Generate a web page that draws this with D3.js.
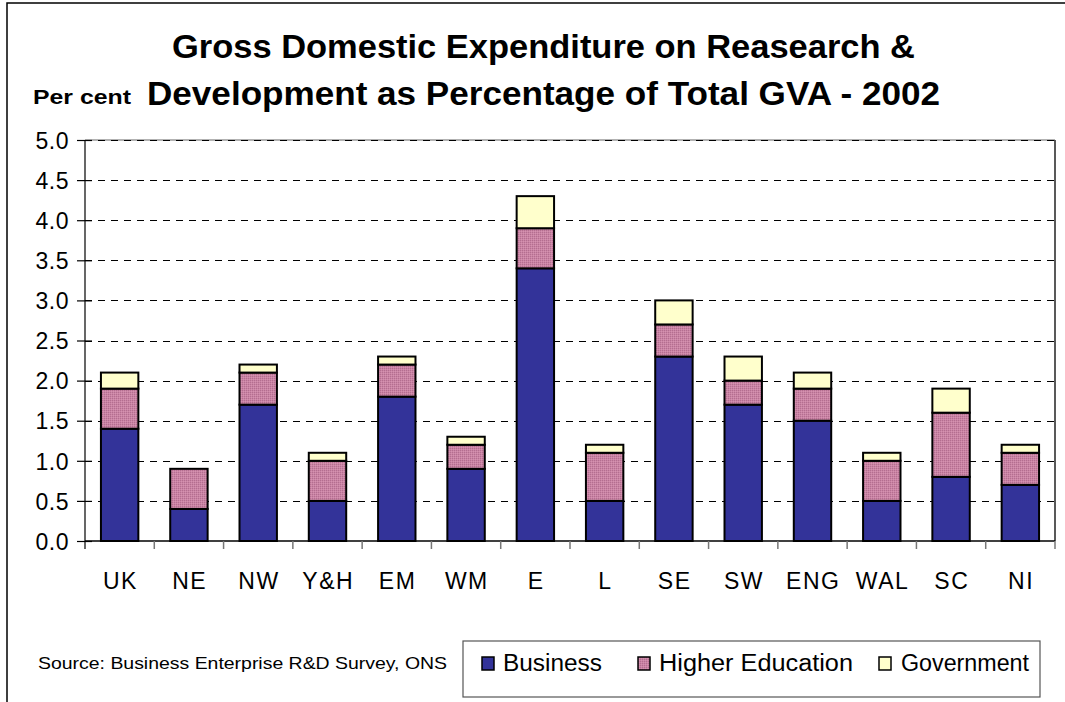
<!DOCTYPE html>
<html>
<head>
<meta charset="utf-8">
<script src="https://cdn.jsdelivr.net/npm/d3@7"></script>
<style>
  html, body { margin: 0; padding: 0; background: #fff; }
  svg { display: block; }
  text { font-family: "Liberation Sans", Arial, sans-serif; fill: #000; }
</style>
</head>
<body>
<svg id="chart" width="1065" height="702"></svg>
<script>
// Regions of the UK
const regions = ["UK", "NE", "NW", "Y&H", "EM", "WM", "E", "L", "SE", "SW", "ENG", "WAL", "SC", "NI"];
// R&D spend as % of GVA, by sector
const business        = [1.4, 0.4, 1.7, 0.5, 1.8, 0.9, 3.4, 0.5, 2.3, 1.7, 1.5, 0.5, 0.8, 0.7];
const higherEducation = [0.5, 0.5, 0.4, 0.5, 0.4, 0.3, 0.5, 0.6, 0.4, 0.3, 0.4, 0.5, 0.8, 0.4];
const government      = [0.2, 0.0, 0.1, 0.1, 0.1, 0.1, 0.4, 0.1, 0.3, 0.3, 0.2, 0.1, 0.3, 0.1];
const seriesNames = ["Business", "Higher Education", "Government"];
const yTicks = [0, 0.5, 1.0, 1.5, 2.0, 2.5, 3.0, 3.5, 4.0, 4.5, 5.0];

const svg = d3.select("#chart");
const defs = svg.append("defs");

// fine dotted texture for the higher-education fill
const pat = defs.append("pattern").attr("id", "hePat")
  .attr("width", 2).attr("height", 2).attr("patternUnits", "userSpaceOnUse");
pat.append("rect").attr("width", 2).attr("height", 2).attr("fill", "#c983a4");
pat.append("rect").attr("width", 1).attr("height", 1).attr("fill", "#b46e90");
pat.append("rect").attr("x", 1).attr("y", 1).attr("width", 1).attr("height", 1).attr("fill", "#d592b0");

const colors = ["#333399", "url(#hePat)", "#ffffcc"];

// outer chart frame
svg.append("rect").attr("x", 7).attr("y", 3).attr("width", 1080).attr("height", 720)
  .attr("fill", "none").attr("stroke", "#000").attr("stroke-width", 1.5);

const plot = { left: 85, right: 1055, top: 140, bottom: 541 };

const x = d3.scaleBand().domain(regions).range([plot.left, plot.right]).paddingInner(0.46).paddingOuter(0.23);
const xEdge = d3.scaleLinear().domain([0, regions.length]).range([plot.left, plot.right]);
const y = d3.scaleLinear().domain([0, 5]).range([plot.bottom, plot.top]);

// plot-area border (top light grey, right dark)
svg.append("line").attr("x1", plot.left).attr("x2", plot.right).attr("y1", plot.top).attr("y2", plot.top)
  .attr("stroke", "#999").attr("stroke-width", 1.5);
svg.append("line").attr("x1", plot.right).attr("x2", plot.right).attr("y1", plot.top).attr("y2", plot.bottom)
  .attr("stroke", "#222").attr("stroke-width", 1.5);

// dashed gridlines
svg.append("g").selectAll("line").data(yTicks.filter(d => d > 0)).join("line")
  .attr("x1", plot.left).attr("x2", plot.right)
  .attr("y1", d => Math.round(y(d)) + 0.5).attr("y2", d => Math.round(y(d)) + 0.5)
  .attr("stroke", "#000").attr("stroke-width", 1.2).attr("stroke-dasharray", "7,6");

// stacked bars
const rows = regions.map((r, i) => ({ region: r, Business: business[i], "Higher Education": higherEducation[i], Government: government[i] }));
const stacked = d3.stack().keys(seriesNames)(rows);
svg.append("g").selectAll("g").data(stacked).join("g")
  .attr("fill", (d, i) => colors[i])
  .selectAll("rect").data(d => d.filter(s => s[1] - s[0] > 0)).join("rect")
  .attr("x", d => x(d.data.region))
  .attr("width", x.bandwidth())
  .attr("y", d => y(d[1]))
  .attr("height", d => y(d[0]) - y(d[1]))
  .attr("stroke", "#000").attr("stroke-width", 2);

// y axis
const yAxis = d3.axisLeft(y).tickValues(yTicks).tickFormat(d3.format(".1f")).tickSize(0).tickPadding(16);
const gy = svg.append("g").attr("transform", `translate(${plot.left},0)`).call(yAxis);
gy.select(".domain").remove();
gy.selectAll("text").style("font-size", "23px").style("letter-spacing", "0.5px")
  .style("font-family", "'Liberation Sans', Arial, sans-serif").attr("dy", "0.36em");
gy.selectAll(".tick").append("line").attr("x1", -8).attr("x2", 7).attr("stroke", "#000").attr("stroke-width", 1.2);
svg.append("line").attr("x1", plot.left).attr("x2", plot.left).attr("y1", plot.top).attr("y2", plot.bottom + 8)
  .attr("stroke", "#000").attr("stroke-width", 1.2);

// x axis
svg.append("line").attr("x1", plot.left).attr("x2", plot.right).attr("y1", plot.bottom).attr("y2", plot.bottom)
  .attr("stroke", "#000").attr("stroke-width", 1.5);
svg.append("g").selectAll("line").data(d3.range(1, regions.length + 1)).join("line")
  .attr("x1", d => xEdge(d)).attr("x2", d => xEdge(d))
  .attr("y1", plot.bottom).attr("y2", plot.bottom + 8)
  .attr("stroke", "#777").attr("stroke-width", 1.5);
const xAxis = d3.axisBottom(x).tickSize(0).tickPadding(32);
const gx = svg.append("g").attr("transform", `translate(0,${plot.bottom})`).call(xAxis);
gx.select(".domain").remove();
gx.selectAll("text").style("font-size", "23px").style("letter-spacing", "1.5px")
  .style("font-family", "'Liberation Sans', Arial, sans-serif").attr("dx", "0.75px");

// titles
svg.append("text").attr("x", 172).attr("y", 58).attr("textLength", 743).attr("lengthAdjust", "spacingAndGlyphs")
  .style("font-size", "34px").style("font-weight", "bold")
  .text("Gross Domestic Expenditure on Reasearch &");
svg.append("text").attr("x", 147).attr("y", 105).attr("textLength", 793).attr("lengthAdjust", "spacingAndGlyphs")
  .style("font-size", "34px").style("font-weight", "bold")
  .text("Development as Percentage of Total GVA - 2002");
svg.append("text").attr("x", 33).attr("y", 104).attr("textLength", 98).attr("lengthAdjust", "spacingAndGlyphs")
  .style("font-size", "20px").style("font-weight", "bold")
  .text("Per cent");

// source note
svg.append("text").attr("x", 38).attr("y", 669).attr("textLength", 409).attr("lengthAdjust", "spacingAndGlyphs")
  .style("font-size", "17px")
  .text("Source: Business Enterprise R&D Survey, ONS");

// legend
const legend = svg.append("g");
legend.append("rect").attr("x", 463).attr("y", 641).attr("width", 577).attr("height", 56)
  .attr("fill", "#fff").attr("stroke", "#555").attr("stroke-width", 1.2);
const legX = [482, 638, 879];
const legW = [99, 194, 128];
const legendItems = legend.selectAll("g").data(seriesNames).join("g")
  .attr("transform", (d, i) => `translate(${legX[i]},657)`);
legendItems.append("rect").attr("width", 12).attr("height", 13)
  .attr("fill", (d, i) => colors[i]).attr("stroke", "#000").attr("stroke-width", 1.5);
legendItems.append("text").attr("x", (d, i) => i === 2 ? 22 : 21).attr("y", 14)
  .attr("textLength", (d, i) => legW[i]).attr("lengthAdjust", "spacingAndGlyphs")
  .style("font-size", "23px").text(d => d);
</script>
</body>
</html>
